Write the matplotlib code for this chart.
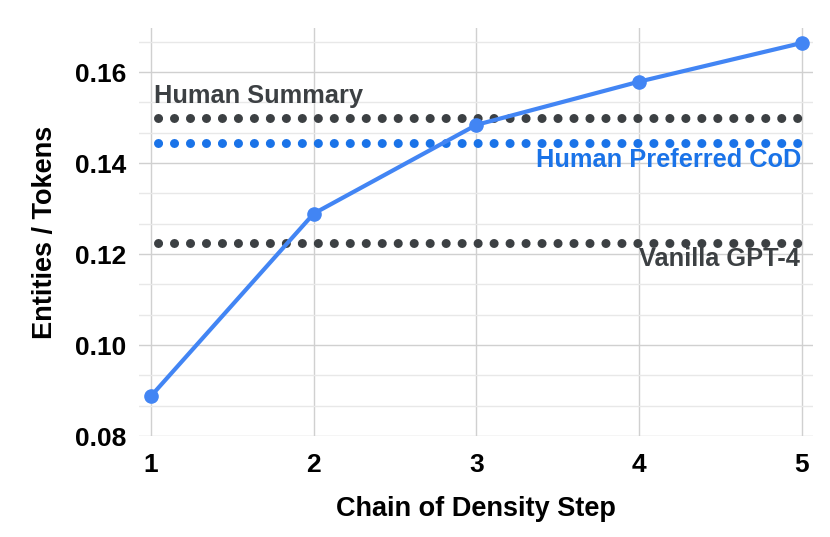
import matplotlib
matplotlib.use("Agg")
import matplotlib.pyplot as plt
import numpy as np

plt.rcParams['font.family'] = ['Liberation Sans', 'DejaVu Sans']
plt.rcParams['font.weight'] = 'bold'

steps = [1, 2, 3, 4, 5]
density = [0.0888, 0.1289, 0.1484, 0.1579, 0.1664]

ref_names = ["Human Summary", "Human Preferred CoD", "Vanilla GPT-4"]
ref_values = [0.1500, 0.1443, 0.1224]
ref_colors = ["#3c4043", "#1a73e8", "#3c4043"]
ref_span = [1.04, 4.98]

line_color = "#4285f4"

fig = plt.figure(figsize=(8.3, 5.37), dpi=100)
ax = fig.add_axes([0.1675, 0.188, 0.812, 0.760])

# reference lines (dotted)
for val, col in zip(ref_values, ref_colors):
    ax.plot(ref_span, [val, val], color=col, lw=6.5, linestyle=(0, (0.01, 1.76)),
            dash_capstyle='round', zorder=2)

ax.plot(steps, density, color=line_color, lw=3, marker='o', markersize=9.5,
        zorder=3)

# labels for reference lines
ax.text(1.02, 0.1531, ref_names[0], color=ref_colors[0], fontsize=18.3,
        fontweight='bold', ha='left', va='baseline')
ax.text(4.995, 0.1392, ref_names[1], color=ref_colors[1], fontsize=18.3,
        fontweight='bold', ha='right', va='baseline')
ax.text(4.99, 0.1173, ref_names[2], color=ref_colors[2], fontsize=18.3,
        fontweight='bold', ha='right', va='baseline')

ax.set_xlim(0.926, 5.068)
ax.set_ylim(0.08, 0.1697)
ax.set_xticks(steps)
ax.set_yticks(np.arange(0.08, 0.161, 0.02))
ax.set_yticks(np.arange(0.08, 0.1675, 0.02 / 3), minor=True)
ax.yaxis.set_major_formatter(matplotlib.ticker.FormatStrFormatter('%.2f'))

ax.grid(axis='x', color='#d0d0d0', lw=1)
ax.grid(axis='y', which='major', color='#d0d0d0', lw=1)
ax.grid(axis='y', which='minor', color='#e8e8e8', lw=1)
ax.set_axisbelow(True)

for s in ax.spines.values():
    s.set_visible(False)
ax.tick_params(axis='both', which='both', length=0, labelsize=19)
ax.tick_params(axis='x', pad=12)
ax.tick_params(axis='y', pad=9)

ax.set_xlabel("Chain of Density Step", fontsize=19.5, fontweight='bold', labelpad=14)
ax.set_ylabel("Entities / Tokens", fontsize=19.5, fontweight='bold', labelpad=12)

fig.savefig("out.png", dpi=100)
